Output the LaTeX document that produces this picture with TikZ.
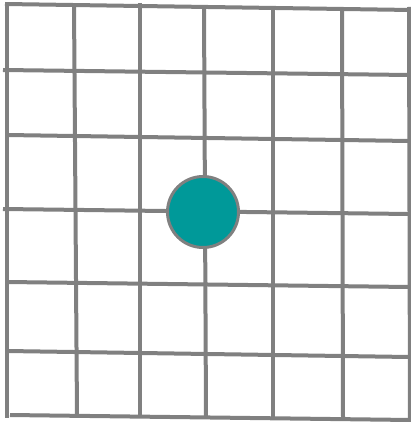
\documentclass[tikz,border=0pt]{standalone}
\usepackage{xcolor}
\usepackage{tikz}
\definecolor{gridgray}{RGB}{128,128,128}
\definecolor{dotteal}{RGB}{0,153,153}

\begin{document}
\begin{tikzpicture}[x=1pt, y=-1pt,
  gridline/.style={draw=gridgray, line width=4pt},
  marker/.style={circle, minimum size=71pt, inner sep=0pt, draw=gridgray, line width=3pt, fill=dotteal}]

\useasboundingbox (0,0) rectangle (411,422);

% Horizontal lines
\foreach \xa/\ya/\xb/\yb in {5/4/411/10, 3/70/409/75, 7/135/409/141, 3/209/409/214, 7/282/409/287, 7/351/409/357, 10/415/411/420}
  \draw[gridline] (\xa,\ya) -- (\xb,\yb);

% Vertical lines
\foreach \xa/\ya/\xb/\yb in {7/4/7/418, 74/5/77/416, 140/3/140/417, 204/7/206/417, 273/8/273/418, 342/9/343/419, 409/7/410/422}
  \draw[gridline] (\xa,\ya) -- (\xb,\yb);

% Dot
\node[marker] (dot) at (203,212) {};

\end{tikzpicture}
\end{document}
